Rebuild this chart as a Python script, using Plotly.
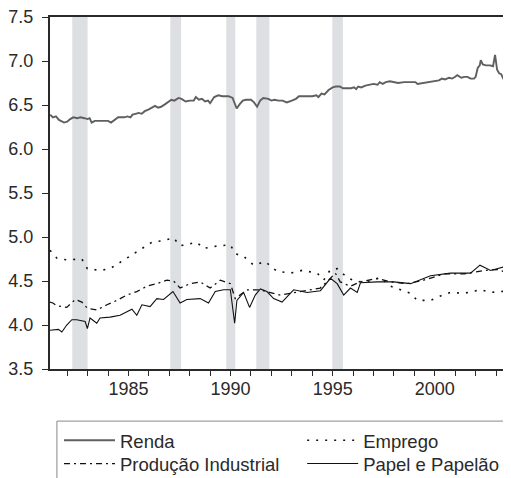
import plotly.graph_objects as go

# ---- data (decimal years, log values) ----
renda_x = [1981.17, 1981.3, 1981.45, 1981.6, 1981.85, 1982.0, 1982.15, 1982.3, 1982.5, 1982.65, 1982.85, 1983.0,
           1983.1, 1983.2, 1983.35, 1983.7, 1984.0, 1984.15, 1984.3, 1984.5, 1984.8, 1984.95, 1985.1, 1985.2,
           1985.35, 1985.5, 1985.65, 1985.8, 1986.0, 1986.15, 1986.3, 1986.45, 1986.6, 1986.8, 1986.95, 1987.1,
           1987.25, 1987.45, 1987.6, 1987.8, 1988.0, 1988.2, 1988.3, 1988.45, 1988.6, 1988.75, 1988.9, 1989.0,
           1989.2, 1989.4, 1989.6, 1989.9, 1990.1, 1990.3, 1990.45, 1990.6, 1990.75, 1991.0, 1991.15, 1991.3,
           1991.45, 1991.6, 1991.85, 1992.0, 1992.15, 1992.35, 1992.55, 1992.75, 1993.0, 1993.2, 1993.35, 1993.7,
           1994.0, 1994.2, 1994.3, 1994.45, 1994.6, 1994.8, 1995.0, 1995.15, 1995.35, 1995.5, 1995.9, 1996.05,
           1996.15, 1996.25, 1996.4, 1996.6, 1996.8, 1997.0, 1997.2, 1997.3, 1997.45, 1997.6, 1997.8, 1998.0,
           1998.2, 1998.5, 1998.8, 1999.05, 1999.15, 1999.4, 1999.7, 2000.0, 2000.2, 2000.35, 2000.5, 2000.7,
           2000.85, 2001.0, 2001.1, 2001.3, 2001.45, 2001.6, 2001.75, 2001.92, 2002.0, 2002.1, 2002.2, 2002.25,
           2002.35, 2002.5, 2002.7, 2002.85, 2002.95, 2003.05, 2003.15, 2003.25, 2003.35, 2003.5, 2003.73]
renda_y = [6.39, 6.36, 6.37, 6.33, 6.30, 6.31, 6.34, 6.36, 6.35, 6.36, 6.35, 6.34,
           6.35, 6.30, 6.32, 6.32, 6.32, 6.30, 6.33, 6.36, 6.36, 6.37, 6.36, 6.39,
           6.40, 6.41, 6.40, 6.43, 6.45, 6.47, 6.49, 6.47, 6.48, 6.51, 6.54, 6.56,
           6.55, 6.58, 6.57, 6.54, 6.55, 6.55, 6.59, 6.56, 6.57, 6.54, 6.55, 6.52,
           6.59, 6.61, 6.60, 6.60, 6.58, 6.46, 6.51, 6.55, 6.56, 6.56, 6.53, 6.48,
           6.55, 6.58, 6.57, 6.55, 6.56, 6.55, 6.55, 6.53, 6.55, 6.57, 6.60, 6.60,
           6.60, 6.61, 6.59, 6.63, 6.62, 6.67, 6.70, 6.71, 6.71, 6.69, 6.69, 6.70,
           6.68, 6.71, 6.70, 6.72, 6.73, 6.74, 6.73, 6.76, 6.74, 6.76, 6.77, 6.76,
           6.75, 6.76, 6.76, 6.76, 6.74, 6.75, 6.76, 6.77, 6.78, 6.80, 6.79, 6.81,
           6.80, 6.82, 6.84, 6.81, 6.82, 6.82, 6.80, 6.80, 6.82, 6.92, 6.95, 7.01,
           6.96, 6.95, 6.95, 6.94, 7.07, 6.90, 6.86, 6.85, 6.80, 6.79, 6.78]

emprego_x = [1981.16, 1981.49, 1981.98, 1982.72, 1982.99, 1983.61, 1984.10, 1984.92, 1985.57, 1986.15, 1986.72,
             1987.21, 1987.53, 1988.35, 1988.68, 1989.41, 1989.99, 1990.23, 1990.64, 1991.13, 1991.70, 1992.27,
             1992.93, 1993.50, 1994.24, 1994.56, 1994.89, 1995.22, 1995.46, 1995.78, 1996.20, 1996.85, 1997.34,
             1997.83, 1998.32, 1998.81, 1999.14, 1999.79, 2000.28, 2000.77, 2001.42, 2002.24, 2002.73, 2003.38,
             2003.71]
emprego_y = [4.85, 4.76, 4.74, 4.75, 4.64, 4.62, 4.64, 4.76, 4.85, 4.94, 4.96,
             4.99, 4.90, 4.94, 4.87, 4.90, 4.91, 4.81, 4.78, 4.68, 4.72, 4.61,
             4.59, 4.62, 4.59, 4.51, 4.63, 4.64, 4.59, 4.53, 4.49, 4.50, 4.54,
             4.44, 4.40, 4.36, 4.28, 4.28, 4.33, 4.37, 4.36, 4.40, 4.37, 4.38,
             4.39]

producao_x = [1981.16, 1981.3, 1981.49, 1981.98, 1982.4, 1982.72, 1982.99, 1983.45, 1983.95, 1984.44, 1984.92,
              1985.41, 1985.9, 1986.39, 1986.88, 1987.21, 1987.53, 1988.02, 1988.51, 1989.0, 1989.5, 1989.99,
              1990.23, 1990.8, 1991.29, 1991.45, 1992.43, 1993.41, 1994.39, 1994.8, 1995.13, 1995.37, 1995.86,
              1996.35, 1997.17, 1997.83, 1998.65, 1999.46, 2000.44, 2001.42, 2002.4, 2003.06, 2003.63]
producao_y = [4.26, 4.25, 4.22, 4.20, 4.29, 4.26, 4.19, 4.17, 4.23, 4.28, 4.34,
              4.38, 4.44, 4.47, 4.51, 4.50, 4.42, 4.47, 4.49, 4.42, 4.51, 4.47,
              4.30, 4.40, 4.40, 4.40, 4.34, 4.38, 4.42, 4.51, 4.59, 4.49, 4.44,
              4.49, 4.53, 4.49, 4.47, 4.51, 4.58, 4.58, 4.62, 4.63, 4.59]

papel_x = [1981.16, 1981.57, 1981.74, 1981.98, 1982.23, 1982.47, 1982.88, 1982.99, 1983.12, 1983.45, 1983.61,
           1984.10, 1984.59, 1984.92, 1985.17, 1985.41, 1985.66, 1986.06, 1986.39, 1986.72, 1987.18, 1987.53,
           1987.86, 1988.51, 1988.92, 1989.25, 1989.66, 1989.99, 1990.20, 1990.31, 1990.64, 1990.93, 1991.21,
           1991.46, 1991.78, 1992.11, 1992.52, 1993.09, 1993.75, 1994.40, 1994.89, 1995.22, 1995.54, 1995.87,
           1996.20, 1996.36, 1997.18, 1997.99, 1998.81, 1999.79, 2000.77, 2001.75, 2002.21, 2002.73, 2003.38,
           2003.71]
papel_y = [3.94, 3.95, 3.92, 4.00, 4.06, 4.06, 4.04, 3.96, 4.08, 4.02, 4.08,
           4.09, 4.11, 4.15, 4.18, 4.11, 4.23, 4.21, 4.30, 4.29, 4.38, 4.25,
           4.29, 4.30, 4.25, 4.38, 4.40, 4.40, 4.02, 4.28, 4.37, 4.20, 4.34,
           4.41, 4.38, 4.30, 4.26, 4.40, 4.37, 4.39, 4.53, 4.47, 4.34, 4.42,
           4.37, 4.48, 4.49, 4.49, 4.47, 4.56, 4.59, 4.59, 4.68, 4.62, 4.66,
           4.67]

recess_start = [1982.25, 1987.05, 1989.79, 1991.26, 1994.98]
recess_end = [1983.0, 1987.58, 1990.23, 1991.9, 1995.5]

x_tickvals = [1985, 1990, 1995, 2000]
x_ticktext = ["1985", "1990", "1995", "2000"]
y_tickvals = [3.5, 4.0, 4.5, 5.0, 5.5, 6.0, 6.5, 7.0, 7.5]

FONT = "Liberation Sans, Arial, sans-serif"
TXT = "#2a2a2a"

fig = go.Figure()
fig.add_trace(go.Scatter(x=renda_x, y=renda_y, mode="lines", name="Renda", legend="legend",
                         line=dict(color="#5f5f5f", width=1.9)))
fig.add_trace(go.Scatter(x=emprego_x, y=emprego_y, mode="lines", name="Emprego", legend="legend2",
                         line=dict(color="#111111", width=1.6, dash="2px,7px")))
fig.add_trace(go.Scatter(x=producao_x, y=producao_y, mode="lines", name="Produção Industrial", legend="legend3",
                         line=dict(color="#111111", width=1.3, dash="6px,4px,2px,4px")))
fig.add_trace(go.Scatter(x=papel_x, y=papel_y, mode="lines", name="Papel e Papelão", legend="legend4",
                         line=dict(color="#111111", width=1.1)))

for s, e in zip(recess_start, recess_end):
    fig.add_vrect(x0=s, x1=e, fillcolor="#dedfe2", opacity=1, line_width=0, layer="below")

# legend frame
fig.add_shape(type="rect", xref="paper", yref="paper", x0=0.015, x1=1.05, y0=-0.35, y1=-0.148,
              line=dict(color="#888888", width=1), fillcolor="rgba(0,0,0,0)", layer="below")

def leg(x, y):
    return dict(orientation="v", xanchor="left", yanchor="top", x=x, y=y,
                borderwidth=0, bgcolor="rgba(0,0,0,0)",
                font=dict(family=FONT, size=18.5, color=TXT), itemwidth=51, tracegroupgap=0)

# page body has an 8px margin: figure spans page x 8..511, y 8..478
fig.update_layout(
    width=503, height=470,
    margin=dict(l=42, r=0, t=9, b=109, autoexpand=False),
    paper_bgcolor="white", plot_bgcolor="white",
    font=dict(family=FONT, color=TXT, size=18),
    showlegend=True,
    legend=leg(0.0195, -0.15),
    legend2=leg(0.547, -0.15),
    legend3=leg(0.0195, -0.216),
    legend4=leg(0.547, -0.216),
    xaxis=dict(
        range=[1981.16, 2003.73], tickmode="array", tickvals=x_tickvals, ticktext=x_ticktext,
        showgrid=False, zeroline=False, showline=True, linecolor="#2a2a2a", linewidth=2,
        mirror=True, ticks="outside", ticklen=5, tickwidth=1.2, tickcolor="#2a2a2a",
        tickfont=dict(size=18, color=TXT), ticklabelstandoff=-3, ticklabeloverflow="allow",
        minor=dict(dtick=1, tick0=1985, ticks="outside", ticklen=5, tickwidth=1.2, tickcolor="#2a2a2a",
                   showgrid=False),
    ),
    yaxis=dict(
        range=[3.5, 7.5], tickmode="array", tickvals=y_tickvals, tickformat=".1f",
        showgrid=False, zeroline=False, showline=True, linecolor="#2a2a2a", linewidth=2,
        ticks="outside", ticklen=6, tickwidth=1.2, tickcolor="#2a2a2a",
        tickfont=dict(size=18, color=TXT), ticklabelstandoff=5, ticklabeloverflow="allow",
    ),
)

fig.write_html("out.html")
